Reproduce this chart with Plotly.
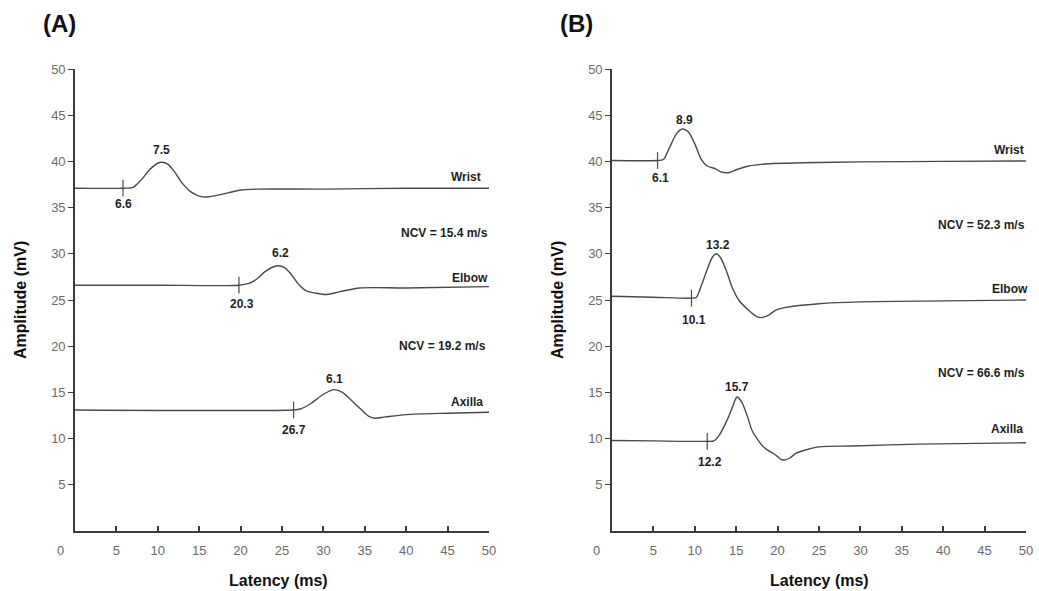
import plotly.graph_objects as go

# ---------------- data ----------------
# Panel A
a_wrist_x = [0, 5.8, 7.0, 8.0, 9.0, 10.0, 10.5, 11.2, 12.0, 13.0, 14.0, 15.0, 16.0, 17.0, 18.5, 20.0, 22, 30, 40, 50]
a_wrist_y = [37.1, 37.1, 37.2, 38.0, 39.1, 39.8, 39.9, 39.7, 38.9, 37.6, 36.7, 36.25, 36.15, 36.3, 36.6, 36.9, 37.0, 37.0, 37.1, 37.1]
a_elbow_x = [0, 10, 19.8, 21.0, 22.0, 23.0, 24.0, 24.6, 25.3, 26.0, 27.0, 28.0, 29.0, 30.4, 32.0, 34.4, 40, 50]
a_elbow_y = [26.6, 26.6, 26.6, 26.8, 27.3, 28.1, 28.6, 28.7, 28.5, 27.9, 26.7, 25.95, 25.75, 25.6, 25.9, 26.3, 26.3, 26.45]
a_axilla_x = [0, 26.4, 27.2, 28.5, 30.0, 31.3, 32.3, 33.3, 34.5, 35.5, 36.2, 37.5, 40.0, 45, 50]
a_axilla_y = [13.1, 13.1, 13.2, 13.8, 14.8, 15.3, 15.0, 14.2, 13.2, 12.4, 12.2, 12.35, 12.6, 12.75, 12.85]
a_mark_x = [5.8, 19.8, 26.4]
a_mark_y = [37.1, 26.6, 13.1]

# Panel B
b_wrist_x = [0, 5.5, 6.2, 7.0, 7.8, 8.5, 9.2, 10.0, 10.8, 11.5, 12.5, 13.2, 14.2, 15.0, 16.5, 19, 23, 30, 40, 50]
b_wrist_y = [40.1, 40.1, 40.2, 41.6, 43.0, 43.5, 43.2, 41.9, 40.2, 39.5, 39.2, 38.85, 38.8, 39.1, 39.5, 39.75, 39.85, 39.95, 40.0, 40.05]
b_elbow_x = [0, 5, 9.6, 10.2, 10.8, 11.5, 12.1, 12.6, 13.1, 13.8, 14.5, 15.3, 16.5, 17.5, 18.1, 18.8, 19.8, 21.0, 25.0, 30.0, 40, 50]
b_elbow_y = [25.4, 25.3, 25.2, 25.3, 26.6, 28.3, 29.6, 30.0, 29.6, 28.2, 26.4, 25.0, 23.9, 23.2, 23.1, 23.3, 23.9, 24.2, 24.6, 24.8, 24.9, 25.0]
b_axilla_x = [0, 5, 11.5, 12.3, 12.9, 13.9, 14.5, 15.1, 15.7, 16.5, 16.9, 18.3, 19.8, 20.4, 20.9, 21.5, 22.2, 25.0, 29.0, 37.0, 50]
b_axilla_y = [9.8, 9.75, 9.7, 9.75, 10.3, 12.0, 13.3, 14.5, 13.9, 12.0, 10.9, 9.1, 8.2, 7.75, 7.7, 7.9, 8.4, 9.1, 9.2, 9.4, 9.55]
b_mark_x = [5.5, 9.6, 11.5]
b_mark_y = [40.1, 25.2, 9.7]

tick_vals = [5, 10, 15, 20, 25, 30, 35, 40, 45, 50]
ytick_vals = [5, 10, 15, 20, 25, 30, 35, 40, 45, 50]

# annotation texts with positions (data coords)
a_labels = [("7.5", 10.5, 41.2), ("6.6", 5.84, 35.4), ("Wrist", 47.2, 38.3),
            ("NCV = 15.4 m/s", 44.6, 32.2), ("6.2", 24.8, 30.1), ("Elbow", 47.7, 27.4),
            ("20.3", 20.2, 24.6), ("NCV = 19.2 m/s", 44.4, 20.0), ("6.1", 31.3, 16.45),
            ("Axilla", 47.3, 14.0), ("26.7", 26.4, 10.95)]
b_labels = [("8.9", 8.7, 44.5), ("6.1", 5.9, 38.2), ("Wrist", 47.9, 41.2),
            ("NCV = 52.3 m/s", 44.65, 33.1), ("13.2", 12.8, 31.0), ("Elbow", 48.1, 26.2),
            ("10.1", 9.9, 22.8), ("NCV = 66.6 m/s", 44.65, 17.1), ("15.7", 15.1, 15.55),
            ("Axilla", 47.7, 11.0), ("12.2", 11.8, 7.5)]

# ---------------- figure ----------------
W, H = 1039, 591
LINE = "#4a4a4a"
FONT = "Arial, Liberation Sans, sans-serif"

fig = go.Figure()

def add_panel(xs_ys, mark_x, mark_y, xa, ya):
    for x, y in xs_ys:
        fig.add_trace(go.Scatter(x=x, y=y, mode="lines", xaxis=xa, yaxis=ya,
                                 line=dict(color=LINE, width=1.4, shape="spline", smoothing=0.8),
                                 showlegend=False, hoverinfo="skip"))
    fig.add_trace(go.Scatter(x=mark_x, y=mark_y, mode="markers", xaxis=xa, yaxis=ya,
                             marker=dict(symbol="line-ns", size=12, line=dict(color=LINE, width=1.2)),
                             showlegend=False, hoverinfo="skip"))

add_panel([(a_wrist_x, a_wrist_y), (a_elbow_x, a_elbow_y), (a_axilla_x, a_axilla_y)],
          a_mark_x, a_mark_y, "x", "y")
add_panel([(b_wrist_x, b_wrist_y), (b_elbow_x, b_elbow_y), (b_axilla_x, b_axilla_y)],
          b_mark_x, b_mark_y, "x2", "y2")

def px_x(p):
    return p / W

def px_y(p):
    return 1 - p / H

ydom = [px_y(531), px_y(69)]
common_x = dict(range=[0, 50], tickvals=tick_vals, ticktext=[str(v) for v in tick_vals],
                showgrid=False, zeroline=False, showline=True, linecolor="#3c3c3c", linewidth=1.6,
                ticks="inside", ticklen=5, tickwidth=1.5, tickcolor="#3c3c3c",
                tickfont=dict(family=FONT, size=13, color="#6a6a6a"), ticklabelstandoff=7,
                automargin=False, fixedrange=True)
common_y = dict(range=[0, 50], tickvals=ytick_vals, ticktext=[str(v) for v in ytick_vals],
                showgrid=False, zeroline=False, showline=True, linecolor="#3c3c3c", linewidth=1.6,
                ticks="outside", ticklen=5, tickwidth=1.2, tickcolor="#3c3c3c",
                tickfont=dict(family=FONT, size=13, color="#6a6a6a"),
                automargin=False, fixedrange=True, domain=ydom)

fig.update_layout(
    width=W, height=H,
    margin=dict(l=0, r=0, t=0, b=0),
    paper_bgcolor="white", plot_bgcolor="white",
    xaxis=dict(domain=[px_x(75), px_x(489)], anchor="y", **common_x),
    yaxis=dict(anchor="x", **common_y),
    xaxis2=dict(domain=[px_x(612), px_x(1026)], anchor="y2", **common_x),
    yaxis2=dict(anchor="x2", **common_y),
)

anns = []
for ref, labels in [(("x", "y"), a_labels), (("x2", "y2"), b_labels)]:
    for txt, x, y in labels:
        anns.append(dict(text=txt, x=x, y=y, xref=ref[0], yref=ref[1], showarrow=False,
                         xanchor="center", yanchor="middle",
                         font=dict(family=FONT, size=12, color="#1e1e1e", weight="bold")))

def paper_text(txt, xp, yp, size, color="#111", angle=0):
    return dict(text=txt, x=px_x(xp), y=px_y(yp), xref="paper", yref="paper",
                xanchor="center", yanchor="middle", textangle=angle, showarrow=False,
                font=dict(family=FONT, size=size, color=color))

# panel letters, axis titles, and the offset origin "0" labels
for txt, xp in [("(A)", 59), ("(B)", 576)]:
    anns.append(paper_text("<b>%s</b>" % txt, xp, 23, 24))
for xp in [278, 819]:
    anns.append(paper_text("<b>Latency (ms)</b>", xp, 580, 16))
for xp in [20, 557]:
    anns.append(paper_text("<b>Amplitude (mV)</b>", xp, 300, 16, angle=-90))
for xp in [60, 596]:
    anns.append(paper_text("0", xp, 550, 13, color="#6a6a6a"))

fig.update_layout(annotations=anns)
fig.write_html("out.html", config={"displayModeBar": False},
               post_script="document.body.style.margin='0';document.body.style.padding='0';"
                           "document.documentElement.style.overflow='hidden';")
